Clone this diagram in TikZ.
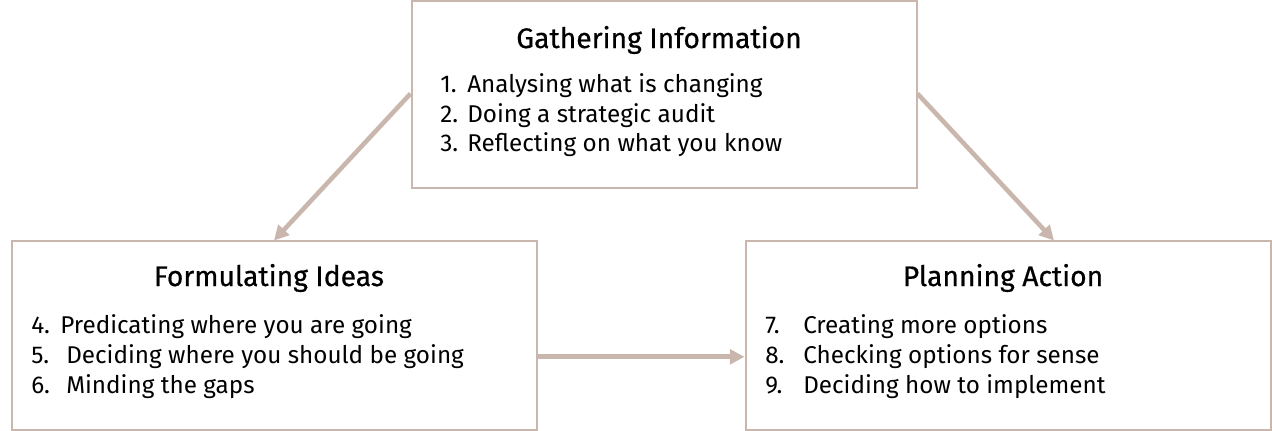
\documentclass[tikz,border=0pt]{standalone}
\usepackage{fontspec}
\setmainfont{Fira Sans}
\newfontfamily\ttlfont[FakeBold=0.6]{Fira Sans}
\usetikzlibrary{arrows.meta,calc}
\definecolor{boxc}{RGB}{201,182,172}
\newcommand{\numb}[2]{\makebox[#1][l]{#2}}
\begin{document}
\begin{tikzpicture}[x=0.75pt,y=-0.75pt,
  box/.style={draw=boxc,line width=1.5pt,minimum height=141pt,inner sep=0pt},
  ttl/.style={font=\ttlfont\fontsize{21.2}{24}\selectfont,inner sep=0pt},
  itm/.style={font=\fontsize{18.2}{22}\selectfont,inner sep=0pt,anchor=west},
  arr/.style={draw=boxc,line width=3.4pt,-{Triangle[length=11pt,width=11pt]}}]
\useasboundingbox (0,0) rectangle (1272,431);
\node[box,minimum width=378.75pt,minimum height=140.25pt] (top) at (664,95) {};
\node[box,minimum width=393.75pt] (left) at (274,335.5) {};
\node[box,minimum width=393.75pt] (right) at (1008,335.5) {};
\node[ttl] (t1) at (659,40) {Gathering Information};
\node[itm] (a1) at (440,86) {\numb{20.25pt}{1.}Analysing what is changing};
\node[itm] (a2) at (440,116) {\numb{20.25pt}{2.}Doing a strategic audit};
\node[itm] (a3) at (440,145) {\numb{20.25pt}{3.}Reflecting on what you know};
\node[ttl] (t2) at (269,278) {Formulating Ideas};
\node[itm] (b1) at (31,327) {\numb{21.75pt}{4.}Predicating where you are going};
\node[itm] (b2) at (31,357) {\numb{26.25pt}{5.}Deciding where you should be going};
\node[itm] (b3) at (31,387) {\numb{26.25pt}{6.}Minding the gaps};
\node[ttl] (t3) at (1003,278) {Planning Action};
\node[itm] (c1) at (765,327) {\numb{28.5pt}{7.}Creating more options};
\node[itm] (c2) at (765,357) {\numb{28.5pt}{8.}Checking options for sense};
\node[itm] (c3) at (765,387) {\numb{28.5pt}{9.}Deciding how to implement};
\draw[arr] ([yshift=1pt]top.west) -- (left.north);
\draw[arr] ([yshift=1pt]top.east) -- ([xshift=34.5pt]right.north);
\draw[arr,line width=3.8pt] ([yshift=-16pt]left.east) -- ([yshift=-16pt]right.west);
\end{tikzpicture}
\end{document}
